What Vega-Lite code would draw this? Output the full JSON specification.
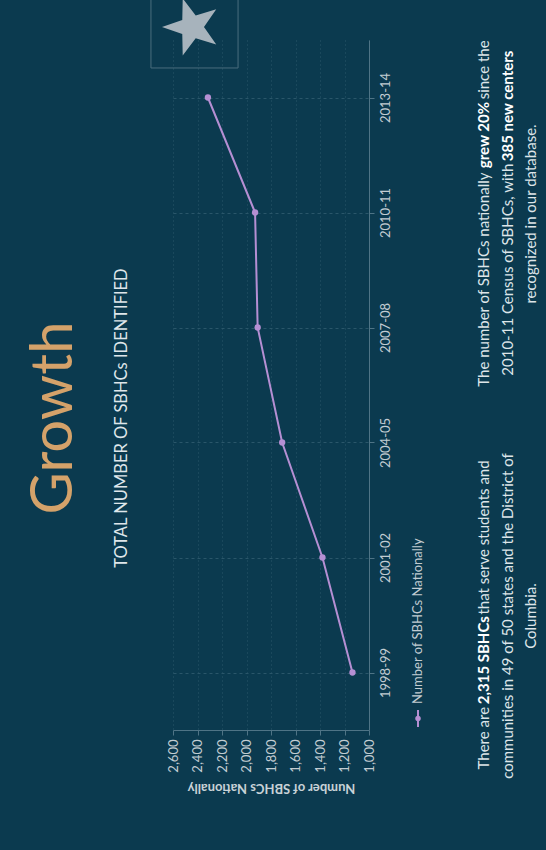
{
  "$schema": "https://vega.github.io/schema/vega-lite/v6.json",
  "width": 196,
  "height": 690,
  "autosize": {"type": "none"},
  "padding": {"left": 173, "top": 40, "right": 177, "bottom": 120},
  "background": "#0b3a4f",
  "config": {"view": {"stroke": null}, "font": "Lato"},
  "title": {
    "text": "Growth",
    "subtitle": "TOTAL NUMBER OF SBHCs IDENTIFIED",
    "orient": "left",
    "anchor": "middle",
    "frame": "group",
    "offset": 20,
    "dx": -33,
    "font": "Lato",
    "fontSize": 58,
    "fontWeight": "normal",
    "color": "#d4a26a",
    "subtitleFont": "Lato",
    "subtitleFontSize": 16.5,
    "subtitleColor": "#dfe6ea",
    "subtitlePadding": 30
  },
  "encoding": {
    "x": {
      "field": "centers",
      "type": "quantitative",
      "scale": {"domain": [1000, 2600], "reverse": true, "nice": false, "zero": false},
      "axis": {
        "values": [1000, 1200, 1400, 1600, 1800, 2000, 2200, 2400, 2600],
        "format": ",d",
        "labelAngle": 270,
        "labelAlign": "right",
        "labelBaseline": "middle",
        "labelFontSize": 13,
        "labelColor": "#c2ccd2",
        "labelPadding": 4,
        "tickSize": 5,
        "tickColor": "#4f7486",
        "domainColor": "#4f7486",
        "gridColor": "#2a566a",
        "gridDash": [1, 3],
        "title": "Number of SBHCs Nationally",
        "titleAngle": 180,
        "titleBaseline": "bottom",
        "titleFontSize": 13,
        "titleFontWeight": "bold",
        "titleColor": "#c8d2d7",
        "titlePadding": 8
      }
    },
    "y": {
      "field": "year",
      "type": "quantitative",
      "scale": {"domain": [1996.5, 2014.5], "nice": false, "zero": false},
      "axis": {
        "orient": "right",
        "values": [1998, 2001, 2004, 2007, 2010, 2013],
        "labelExpr": "datum.value + '-' + slice(toString(datum.value + 1), 2)",
        "labelAngle": 270,
        "labelAlign": "center",
        "labelBaseline": "top",
        "labelFontSize": 13,
        "labelColor": "#c2ccd2",
        "labelPadding": 5,
        "tickSize": 5,
        "tickColor": "#4f7486",
        "domainColor": "#4f7486",
        "gridColor": "#2a566a",
        "gridDash": [3, 3],
        "title": null
      }
    }
  },
  "layer": [
    {
      "data": {"values": [
        {"period": "1998-99", "year": 1998, "centers": 1135},
        {"period": "2001-02", "year": 2001, "centers": 1380},
        {"period": "2004-05", "year": 2004, "centers": 1709},
        {"period": "2007-08", "year": 2007, "centers": 1909},
        {"period": "2010-11", "year": 2010, "centers": 1930},
        {"period": "2013-14", "year": 2013, "centers": 2315}
      ]},
      "mark": {"type": "line", "color": "#b58fd3", "strokeWidth": 2, "point": {"filled": true, "size": 40, "color": "#b58fd3", "opacity": 1}},
      "encoding": {"order": {"field": "year", "type": "quantitative"}}
    },
    {
      "data": {"values": [
        {"text": "There are", "centers": 61, "year": 1995.472},
        {"text": "that serve students and", "centers": 61, "year": 1999.51},
        {"text": "The number of SBHCs nationally", "centers": 61, "year": 2005.456},
        {"text": "since the", "centers": 61, "year": 2012.952},
        {"text": "2010-11 Census of SBHCs, with", "centers": -135, "year": 2005.743}
      ]},
      "mark": {"type": "text", "angle": 270, "align": "left", "baseline": "middle", "fontSize": 15, "color": "#dde5e9"},
      "encoding": {"text": {"field": "text", "type": "nominal"}}
    },
    {
      "data": {"values": [
        {"text": "2,315 SBHCs", "centers": 61, "year": 1997.173},
        {"text": "grew 20%", "centers": 61, "year": 2011.155},
        {"text": "385 new centers", "centers": -135, "year": 2011.337}
      ]},
      "mark": {"type": "text", "angle": 270, "align": "left", "baseline": "middle", "fontSize": 15, "fontWeight": "bold", "color": "#ffffff"},
      "encoding": {"text": {"field": "text", "type": "nominal"}}
    },
    {
      "data": {"values": [
        {"text": "communities in 49 of 50 states and the District of", "centers": -135, "year": 1999.474},
        {"text": "Columbia.", "centers": -322, "year": 1999.474},
        {"text": "recognized in our database.", "centers": -322, "year": 2009.961}
      ]},
      "mark": {"type": "text", "angle": 270, "align": "center", "baseline": "middle", "fontSize": 15, "color": "#dde5e9"},
      "encoding": {"text": {"field": "text", "type": "nominal"}}
    },
    {
      "data": {"values": [{"centers": 600, "year": 1997.178, "text": "Number of SBHCs Nationally"}]},
      "mark": {"type": "text", "angle": 270, "align": "left", "baseline": "middle", "fontSize": 13, "color": "#c2ccd2"},
      "encoding": {"text": {"field": "text", "type": "nominal"}}
    },
    {
      "data": {"values": [{"centers": 600, "year": 1996.578, "year2": 1997.022}]},
      "mark": {"type": "rule", "color": "#b58fd3", "strokeWidth": 2},
      "encoding": {"y2": {"field": "year2"}}
    },
    {
      "data": {"values": [{"centers": 600, "year": 1996.8}]},
      "mark": {"type": "point", "filled": true, "color": "#b58fd3", "opacity": 1},
      "encoding": {"size": {"value": 30}}
    },
    {
      "data": {"values": [{"centers": 2780, "centers2": 2069, "year": 2015.6, "year2": 2013.77}]},
      "mark": {"type": "rect", "fill": "transparent", "stroke": "#4a6d7e", "strokeWidth": 1},
      "encoding": {"x2": {"field": "centers2"}, "y2": {"field": "year2"}}
    },
    {
      "data": {"values": [{"centers": 2445, "year": 2014.84}]},
      "mark": {"type": "point", "shape": "M-1,0L-0.324,-0.235L-0.309,-0.951L0.124,-0.38L0.809,-0.588L0.4,0L0.809,0.588L0.124,0.38L-0.309,0.951L-0.324,0.235Z", "filled": true, "color": "#a7b3bc", "opacity": 1},
      "encoding": {"size": {"value": 3600}}
    }
  ]
}
